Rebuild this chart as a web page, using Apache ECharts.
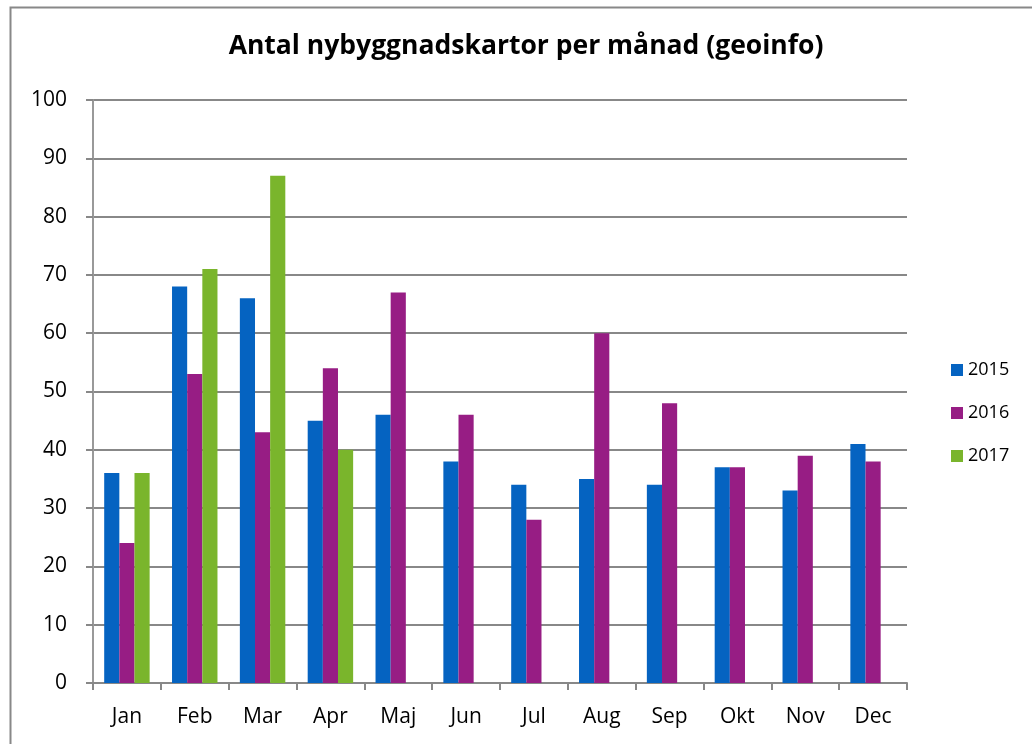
<!DOCTYPE html>
<html>
<head>
<meta charset="utf-8">
<script src="https://cdn.jsdelivr.net/npm/echarts@6/dist/echarts.min.js"></script>
<style>
  html, body { margin: 0; padding: 0; background: #fff; }
  #chart { width: 1032px; height: 744px; }
</style>
</head>
<body>
<div id="chart"></div>
<script>
// månader och värden per år
var months = ['Jan', 'Feb', 'Mar', 'Apr', 'Maj', 'Jun', 'Jul', 'Aug', 'Sep', 'Okt', 'Nov', 'Dec'];
var y2015 = [36, 68, 66, 45, 46, 38, 34, 35, 34, 37, 33, 41];
var y2016 = [24, 53, 43, 54, 67, 46, 28, 60, 48, 37, 39, 38];
var y2017 = [36, 71, 87, 40, null, null, null, null, null, null, null, null];

var font = '"Open Sans", "Noto Sans", sans-serif';

var chart = echarts.init(document.getElementById('chart'));

var option = {
  animation: false,
  backgroundColor: '#fff',
  title: {
    text: 'Antal nybyggnadskartor per månad (geoinfo)',
    left: 521,
    top: 28,
    textAlign: 'center',
    textStyle: { fontFamily: font, fontSize: 26.5, fontWeight: 'bold', color: '#000' }
  },
  legend: {
    orient: 'vertical',
    left: 946,
    top: 356,
    itemWidth: 12,
    itemHeight: 12,
    itemGap: 25,
    icon: 'rect',
    textStyle: { fontFamily: font, fontSize: 18, color: '#000' },
    data: ['2015', '2016', '2017']
  },
  grid: { left: 93, right: 125, top: 100, bottom: 61 },
  xAxis: {
    type: 'category',
    data: months,
    axisLine: { lineStyle: { color: '#888', width: 2 } },
    axisTick: { show: true, length: 7, lineStyle: { color: '#888', width: 2 } },
    axisLabel: { fontFamily: font, fontSize: 21, color: '#000', margin: 24 }
  },
  yAxis: {
    type: 'value',
    min: 0,
    max: 100,
    interval: 10,
    axisLine: { show: true, lineStyle: { color: '#999', width: 2 } },
    axisTick: { show: true, length: 7, lineStyle: { color: '#888', width: 2 } },
    splitLine: { lineStyle: { color: '#888', width: 2 } },
    axisLabel: { fontFamily: font, fontSize: 21, color: '#000', margin: 26 }
  },
  series: [
    { name: '2015', type: 'bar', data: y2015, itemStyle: { color: '#0563C1' }, barGap: '0%', barCategoryGap: '33%' },
    { name: '2016', type: 'bar', data: y2016, itemStyle: { color: '#971D84' } },
    { name: '2017', type: 'bar', data: y2017, itemStyle: { color: '#7AB52C' } }
  ],
  graphic: [
    {
      type: 'rect',
      shape: { x: 10.5, y: 7.5, width: 1100, height: 800 },
      style: { fill: 'none', stroke: '#888', lineWidth: 2 },
      silent: true
    }
  ]
};

chart.setOption(option);
</script>
</body>
</html>
